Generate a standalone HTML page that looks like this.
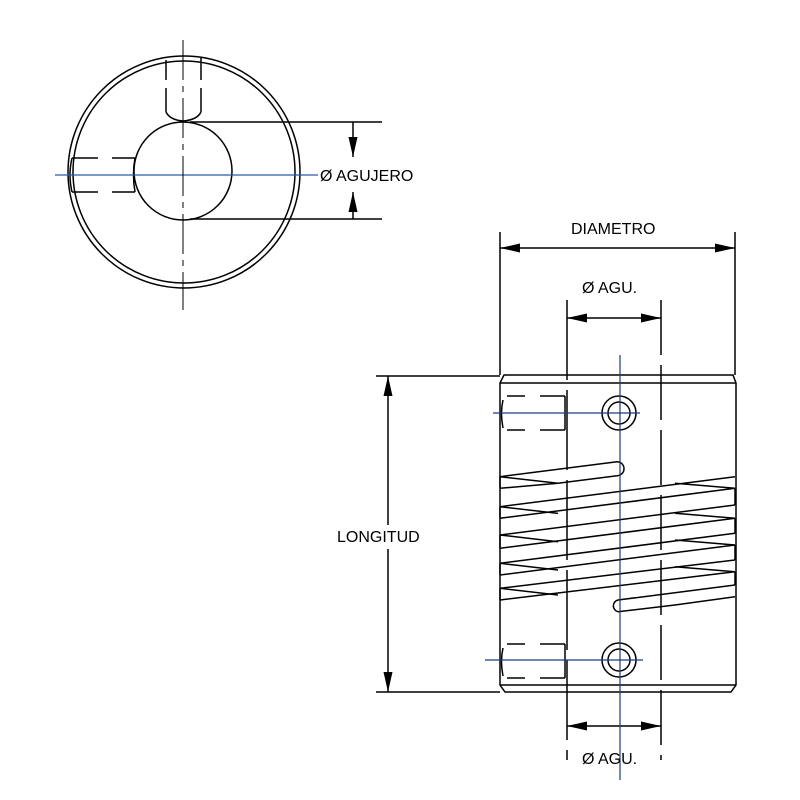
<!DOCTYPE html><html><head><style>body{margin:0;background:#fff}svg{display:block}text{font-family:"Liberation Sans",sans-serif;font-size:16px;fill:#000}</style></head><body>
<svg width="800" height="800" viewBox="0 0 800 800" xmlns="http://www.w3.org/2000/svg">
<defs>
<marker id="b" markerWidth="20" markerHeight="9" refX="20" refY="4.5" orient="auto-start-reverse" markerUnits="userSpaceOnUse"><path d="M0,0 L20,4.5 L0,9z" fill="#000"/></marker></defs>
<g fill="none" stroke="#000" stroke-width="1.5">
<circle cx="184" cy="172" r="116"/><circle cx="184" cy="172" r="111"/>
<circle cx="183" cy="171" r="49"/>
<path d="M166,60V80M166,88V112M201,58V80M201,88V112M166,112Q170,120 183,121M201,112Q197,120 183,121" />
<path d="M72,158H98M112,158H135M72,192H98M112,192H135M72,158Q68,175 72,192M135,158Q132,175 135,192"/>
<path d="M190,122H382M190,219H382"/>
<line x1="353" y1="122" x2="353" y2="157" marker-end="url(#b)"/>
<line x1="353" y1="219" x2="353" y2="192" marker-end="url(#b)"/>
</g>
<line x1="55" y1="175" x2="318" y2="175" stroke="#2a5aa8" stroke-width="1.2"/>
<line x1="183" y1="40" x2="183" y2="310" stroke="#000" stroke-width="1" stroke-dasharray="40,6,6,6"/>
<text x="320" y="181">Ø AGUJERO</text>

<g fill="none" stroke="#000" stroke-width="1.5">
<path d="M504,375H733L736,383V685L731,692H505L500,685V383Z" fill="#fff"/>
<line x1="500" y1="383" x2="736" y2="383"/>
<line x1="500" y1="685" x2="736" y2="685"/>
<line x1="500" y1="232" x2="500" y2="375"/><line x1="735" y1="232" x2="735" y2="375"/>
<line x1="376" y1="376" x2="500" y2="376"/><line x1="376" y1="692" x2="500" y2="692"/>
</g>
<g stroke="#000" stroke-width="1.5">
<line x1="567" y1="300" x2="567" y2="760" stroke-dasharray="80,10"/>
<line x1="661" y1="300" x2="661" y2="760" stroke-dasharray="55,10"/>
</g>
<g fill="#fff" stroke="#000" stroke-width="1.5">
<circle cx="619" cy="413" r="17"/><circle cx="619" cy="413" r="11"/>
<circle cx="619" cy="660" r="17"/><circle cx="619" cy="660" r="11"/>
</g>
<g fill="none" stroke="#000" stroke-width="1.5">
<path d="M507,396H525M540,396H565M507,430H525M540,430H565M503,400Q500,413 503,428M565,396V430"/>
<path d="M507,644H525M540,644H565M507,678H525M540,678H565M503,648Q500,661 503,676M565,644V678"/>
<path d="M500,476.7V488.3M500,506.7V518.3M500,535V548.3M500,563.3V575M500,588.3V600M735,488.3V505M735,518.3V533.3M735,545V560M735,571.7V585"/>
<path d="M500,476.7L617,461.7A7,7 0 0 1 617,475.7L558,483.3L500,476.7M500,488.3L558,483.3"/>
<path d="M500,506.7L735,476.7M500,535L735,505M500,563.3L735,533.3M500,588.3L735,560"/>
<path d="M500,518.3L735,488.3M500,548.3L735,518.3M500,575L735,545M500,600L735,571.7"/>
<path d="M500,506.7L558,513.4M500,535L558,541.7M500,563.3L558,570M500,588.3L558,595"/>
<path d="M735,488.3L675,483.3M735,518.3L675,513.3M735,545L675,540M735,571.7L675,566.7"/>
<path d="M735,585L618,600A6,6 0 0 0 618,611.7L675,605L735,596.7"/>
</g>
<g stroke="#000" stroke-width="1.5">
<line x1="500" y1="248" x2="735" y2="248" marker-start="url(#b)" marker-end="url(#b)"/>
<line x1="567" y1="318" x2="661" y2="318" marker-start="url(#b)" marker-end="url(#b)"/>
<line x1="567" y1="726" x2="661" y2="726" marker-start="url(#b)" marker-end="url(#b)"/>
<line x1="388" y1="376" x2="388" y2="692" marker-start="url(#b)" marker-end="url(#b)"/>
</g>
<g stroke="#1a3d7a" stroke-width="1.2">
<line x1="620" y1="355" x2="620" y2="780"/>
<line x1="493" y1="413" x2="640" y2="413"/>
<line x1="485" y1="660" x2="643" y2="660"/>
</g>
<rect x="336" y="525" width="98" height="24" fill="#fff"/>
<text x="337" y="542">LONGITUD</text>
<text x="571" y="234">DIAMETRO</text>
<text x="582" y="293">Ø AGU.</text>
<text x="582" y="764">Ø AGU.</text>
</svg></body></html>
